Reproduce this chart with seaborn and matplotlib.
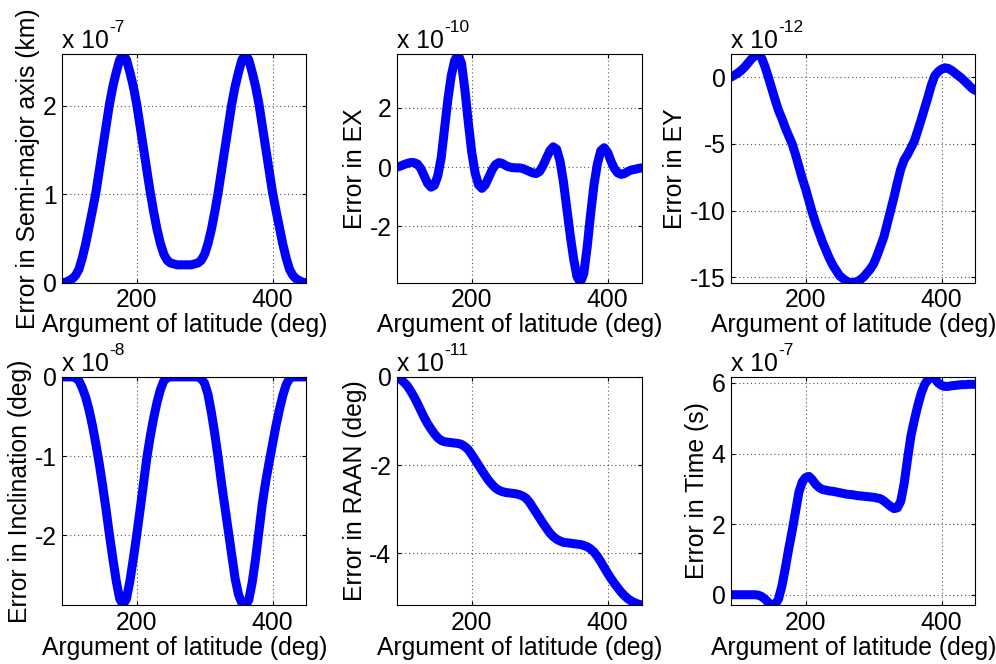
import matplotlib
matplotlib.use("Agg")
import matplotlib.pyplot as plt
import numpy as np
import pandas as pd
import seaborn as sns

# Argument of latitude samples (deg)
arg_lat = list(range(90, 455, 5))

# Error histories, stored in units of the exponent shown above each panel
err_sma = [  # x 1e-7 km
    0.0, 0.0, 0.02, 0.04, 0.08, 0.15, 0.28, 0.44, 0.63, 0.82,
    1.02, 1.27, 1.52, 1.77, 2.02, 2.22, 2.38, 2.52, 2.58, 2.52,
    2.38, 2.22, 2.02, 1.77, 1.52, 1.27, 1.02, 0.8, 0.6, 0.44,
    0.32, 0.25, 0.22, 0.21, 0.2, 0.2, 0.2, 0.2, 0.2, 0.21,
    0.22, 0.25, 0.32, 0.44, 0.6, 0.8, 1.02, 1.27, 1.52, 1.77,
    2.02, 2.22, 2.38, 2.52, 2.58, 2.52, 2.38, 2.22, 2.02, 1.77,
    1.52, 1.27, 1.02, 0.82, 0.63, 0.44, 0.28, 0.15, 0.08, 0.04,
    0.02, 0.0, 0.0,
]
err_ex = [  # x 1e-10
    0.0, 0.03, 0.08, 0.12, 0.15, 0.15, 0.1, -0.05, -0.3, -0.55,
    -0.68, -0.62, -0.3, 0.3, 1.3, 2.3, 3.1, 3.6, 3.8, 3.5,
    2.6, 1.5, 0.5, -0.2, -0.6, -0.72, -0.6, -0.35, -0.1, 0.08,
    0.15, 0.12, 0.05, 0.0, -0.02, -0.03, -0.03, -0.05, -0.1, -0.15,
    -0.2, -0.22, -0.15, 0.05, 0.3, 0.55, 0.68, 0.6, 0.2, -0.5,
    -1.4, -2.3, -3.1, -3.7, -3.9, -3.6, -2.7, -1.6, -0.6, 0.1,
    0.55, 0.65, 0.5, 0.2, -0.05, -0.2, -0.25, -0.22, -0.15, -0.1,
    -0.08, -0.05, -0.03,
]
err_ey = [  # x 1e-12
    0.0, 0.15, 0.3, 0.5, 0.75, 1.05, 1.35, 1.6, 1.7, 1.45,
    0.8, 0.0, -0.85, -1.7, -2.5, -3.1, -3.8, -4.4, -5.0, -5.8,
    -6.7, -7.6, -8.4, -9.3, -10.2, -11.0, -11.7, -12.4, -13.0, -13.6,
    -14.1, -14.5, -14.9, -15.1, -15.3, -15.4, -15.4, -15.35, -15.2, -15.0,
    -14.7, -14.4, -14.0, -13.4, -12.7, -12.0, -11.0, -10.0, -9.0, -7.9,
    -6.9, -6.2, -5.8, -5.3, -4.8, -4.0, -3.2, -2.35, -1.5, -0.6,
    0.1, 0.4, 0.6, 0.7, 0.65, 0.5, 0.3, 0.1, -0.1, -0.35,
    -0.6, -0.85, -1.0,
]
err_inc = [  # x 1e-8 deg
    0.0, 0.0, 0.0, 0.0, -0.01, -0.05, -0.14, -0.26, -0.42, -0.62,
    -0.85, -1.1, -1.38, -1.68, -2.0, -2.3, -2.58, -2.8, -2.88, -2.8,
    -2.58, -2.3, -2.0, -1.68, -1.35, -1.02, -0.75, -0.52, -0.32, -0.16,
    -0.05, -0.01, 0.0, 0.0, 0.0, 0.0, 0.0, 0.0, 0.0, 0.0,
    0.0, -0.02, -0.08, -0.22, -0.45, -0.72, -1.02, -1.35, -1.65, -1.95,
    -2.25, -2.55, -2.75, -2.86, -2.88, -2.82, -2.6, -2.3, -1.95, -1.6,
    -1.32, -1.08, -0.85, -0.62, -0.42, -0.24, -0.1, -0.02, 0.0, 0.0,
    0.0, 0.0, 0.0,
]
err_raan = [  # x 1e-11 deg
    0.0, -0.05, -0.12, -0.2, -0.32, -0.45, -0.6, -0.76, -0.92, -1.06,
    -1.18, -1.29, -1.38, -1.44, -1.47, -1.48, -1.49, -1.5, -1.51, -1.53,
    -1.58, -1.65, -1.76, -1.88, -2.0, -2.12, -2.24, -2.35, -2.44, -2.52,
    -2.57, -2.6, -2.62, -2.63, -2.64, -2.65, -2.67, -2.7, -2.75, -2.84,
    -2.96, -3.08, -3.2, -3.32, -3.43, -3.54, -3.62, -3.68, -3.72, -3.75,
    -3.76, -3.77, -3.78, -3.79, -3.8, -3.82, -3.85, -3.9, -3.97, -4.07,
    -4.19, -4.32, -4.45, -4.57, -4.68, -4.78, -4.88, -4.96, -5.03, -5.08,
    -5.12, -5.15, -5.17,
]
err_time = [  # x 1e-7 s
    0.0, 0.0, 0.0, 0.0, 0.0, 0.0, 0.0, 0.0, -0.01, -0.05,
    -0.12, -0.22, -0.29, -0.28, -0.12, 0.25, 0.75, 1.3, 1.8, 2.35,
    2.9, 3.2, 3.32, 3.35, 3.25, 3.12, 3.03, 2.98, 2.96, 2.94,
    2.93, 2.91, 2.89, 2.87, 2.85, 2.84, 2.83, 2.81, 2.8, 2.79,
    2.78, 2.77, 2.76, 2.74, 2.72, 2.66, 2.58, 2.5, 2.44, 2.46,
    2.65, 3.15, 3.85, 4.5, 4.95, 5.35, 5.7, 5.95, 6.1, 6.17,
    6.12, 6.0, 5.93, 5.9, 5.9, 5.92, 5.93, 5.94, 5.95, 5.95,
    5.96, 5.96, 5.96,
]

y_labels = ["Error in Semi-major axis (km)", "Error in EX", "Error in EY",
            "Error in Inclination (deg)", "Error in RAAN (deg)", "Error in Time (s)"]
exponents = ["-7", "-10", "-12", "-8", "-11", "-7"]
y_ticks = [[0, 1, 2], [-2, 0, 2], [-15, -10, -5, 0],
           [-2, -1, 0], [-4, -2, 0], [0, 2, 4, 6]]
x_ticks = [200, 400]
x_label = "Argument of latitude (deg)"

series = [err_sma, err_ex, err_ey, err_inc, err_raan, err_time]

sns.set_theme(style="white")
plt.rcParams["font.family"] = ["Liberation Sans", "DejaVu Sans"]
plt.rcParams["axes.unicode_minus"] = False
plt.rcParams["text.color"] = "black"
plt.rcParams["axes.labelcolor"] = "black"
plt.rcParams["xtick.color"] = "black"
plt.rcParams["ytick.color"] = "black"

fig = plt.figure(figsize=(9.96, 6.64), dpi=100)

col_left = [0.0622, 0.3986, 0.7339]
row_bottom = [0.5745, 0.0889]
ax_w, ax_h = 0.2455, 0.3435

fs = 17.8
for i, vals in enumerate(series):
    r, c = divmod(i, 3)
    ax = fig.add_axes([col_left[c], row_bottom[r], ax_w, ax_h])
    df = pd.DataFrame({"u": arg_lat, "err": vals})
    sns.lineplot(data=df, x="u", y="err", ax=ax, color="#0000ff",
                 linewidth=6.5, solid_capstyle="round")
    ax.set_xlim(90, 450)
    ax.set_ylim(min(vals), max(vals))
    ax.set_xticks(x_ticks)
    ax.set_yticks(y_ticks[i])
    ax.grid(True, linestyle=(0, (1, 2.5)), color="#555555", linewidth=0.8)
    for sp in ax.spines.values():
        sp.set_visible(True)
        sp.set_color("black")
        sp.set_linewidth(0.8)
    ax.tick_params(direction="in", length=3, width=0.8, labelsize=fs,
                   pad=4, top=True, right=True, bottom=True, left=True)
    ax.set_xlabel(x_label, fontsize=fs, labelpad=1)
    ax.set_ylabel(y_labels[i], fontsize=fs, labelpad=2)

    base = ax.annotate("x 10", xy=(0, 1), xycoords="axes fraction",
                       xytext=(0, 4.5), textcoords="offset points",
                       ha="left", va="baseline", fontsize=fs)
    ax.annotate(exponents[i], xy=(1, 1), xycoords=base,
                xytext=(0, -4.5), textcoords="offset points",
                ha="left", va="bottom", fontsize=12.5)

fig.savefig("out.png", dpi=100, facecolor="white")
